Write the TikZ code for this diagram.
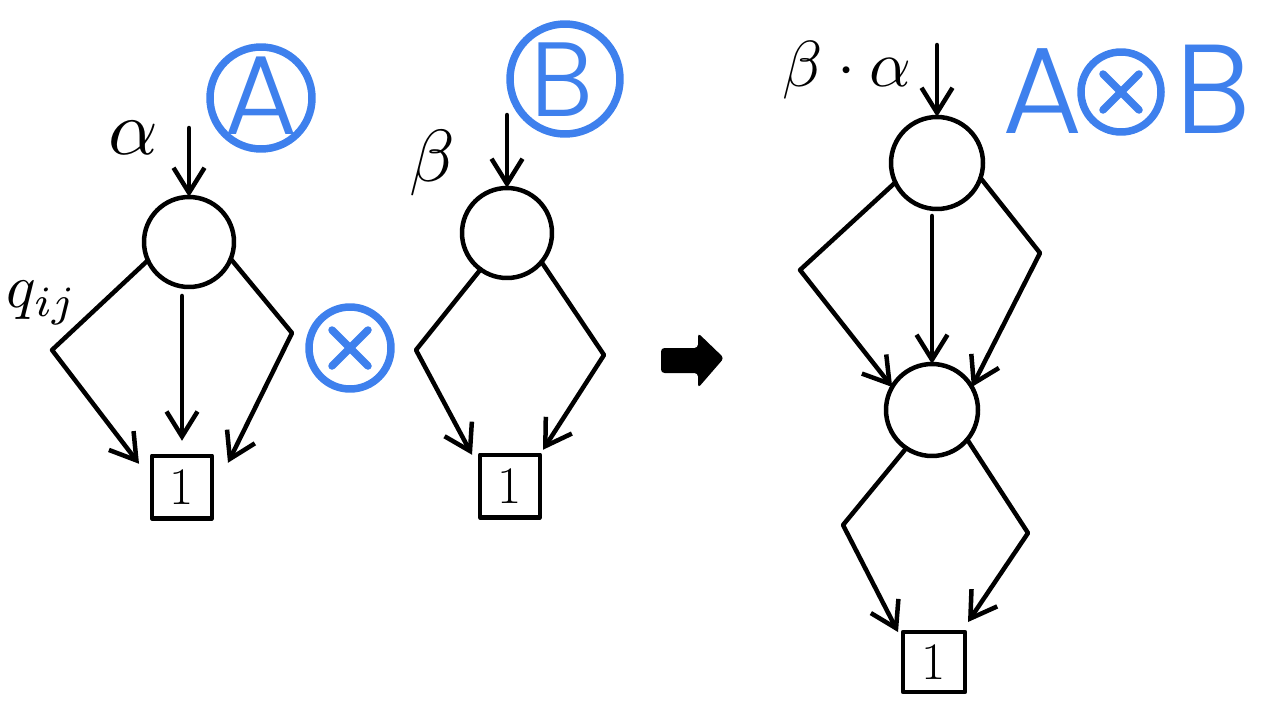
\documentclass[tikz,border=0pt]{standalone}
\usepackage{graphicx}
\usepackage{fontspec}
\newfontfamily\bluefont[UprightFont=* Light]{Poppins}
\usetikzlibrary{arrows.meta,calc}
\definecolor{penblue}{RGB}{62,128,237}
\begin{document}
\begin{tikzpicture}[x=0.02cm,y=-0.02cm,
  every path/.style={line cap=round,line join=round},
  ink/.style={line width=0.09cm,black},
  arr/.style={ink,-{Straight Barb[length=0.5cm,width=0.62cm,line width=0.09cm]}},
  state/.style={circle,draw,line width=0.09cm,minimum size=1.8cm,inner sep=0pt,outer sep=0pt},
  termbox/.style={rectangle,draw,line width=0.09cm,minimum width=1.2cm,minimum height=1.25cm,inner sep=0pt,outer sep=0pt,font=\fontsize{30}{30}\selectfont},
  lbl/.style={inner sep=0pt},
  bluering/.style={circle,draw=penblue,line width=0.15cm,inner sep=0pt,outer sep=0pt},
  bluetxt/.style={inner sep=0pt,text=penblue,font=\bluefont\fontsize{64}{64}\selectfont},
  blueline/.style={draw=penblue,line width=0.15cm}
]
\useasboundingbox (0,0) rectangle (1280,710);

% ---------- graph A ----------
\node[state] (nA) at (189,242) {};
\node[termbox] (boxA) at (182,487) {1};
\coordinate (inA) at (189,128);
\coordinate (bA1) at (52,350);
\coordinate (bA2) at (292,333);
\draw[arr] (inA) -- (nA.north);
\draw[arr] (nA.204) -- (bA1) -- ($(boxA.north west)+(-13,8)$);
\draw[arr] ($(nA.south)+(-7,9)$) -- ($(boxA.north)+(0,-15)$);
\draw[arr] (nA.-22) -- (bA2) -- ($(boxA.north east)+(16,7)$);
\node[lbl] (alphaA) at (133,138) {\scalebox{4.4}{$\alpha$}};
\node[lbl] (qij) at (42,303) {\scalebox{3.5}{$q_{ij}$}};
\node[bluering,minimum size=2.04cm] (ringA) at (261,98) {};
\node[bluetxt] (letA) at (261,96) {A};

% ---------- tensor sign ----------
\node[bluering,minimum size=1.64cm] (otimes) at (350,348) {};
\draw[blueline] ($(otimes.center)+(-18,-18)$) -- ($(otimes.center)+(18,18)$);
\draw[blueline] ($(otimes.center)+(-18,18)$) -- ($(otimes.center)+(18,-18)$);

% ---------- graph B ----------
\node[state] (nB) at (507,233) {};
\node[termbox] (boxB) at (510,486) {1};
\coordinate (inB) at (507,115);
\coordinate (bB1) at (416,350);
\coordinate (bB2) at (604,355);
\draw[arr] (inB) -- (nB.north);
\draw[arr] (nB.234) -- (bB1) -- ($(boxB.north west)+(-8,0)$);
\draw[arr] (nB.320) -- (bB2) -- ($(boxB.north east)+(3,-5)$);
\node[lbl] (betaB) at (432,163) {\scalebox{4.2}{$\beta$}};
\node[bluering,minimum size=2.2cm] (ringB) at (565,79) {};
\node[bluetxt,font=\bluefont\fontsize{60}{60}\selectfont] (letB) at (562,80) {B};

% ---------- big arrow ----------
\fill[rounded corners=2] (661,348) -- (698,348) -- (698,333) -- (724,358) -- (698,388) -- (698,373) -- (661,373) -- cycle;

% ---------- graph A (x) B ----------
\node[state,minimum size=1.84cm] (nT) at (937,163) {};
\node[state,minimum size=1.84cm] (nM) at (932,410) {};
\node[termbox,minimum width=1.24cm,minimum height=1.2cm] (boxC) at (934,662) {1};
\coordinate (inT) at (937,45);
\coordinate (bT1) at (800,270);
\coordinate (bT2) at (1040,253);
\coordinate (bM1) at (843,525);
\coordinate (bM2) at (1028,533);
\draw[arr] (inT) -- (nT.north);
\draw[arr] (nT.205) -- (bT1) -- (nM.150);
\draw[arr] ($(nT.south)+(-5,7)$) -- (nM.north);
\draw[arr] (nT.341) -- (bT2) -- (nM.30);
\draw[arr] (nM.236) -- (bM1) -- ($(boxC.north west)+(-5,0)$);
\draw[arr] (nM.320) -- (bM2) -- ($(boxC.north east)+(3,-10)$);
\node[lbl] (ba) at (847,70) {\scalebox{3.7}{$\beta\cdot\alpha$}};

\node[bluetxt,font=\bluefont\fontsize{70}{70}\selectfont] (ABa) at (1043,91) {A};
\node[bluering,minimum size=1.6cm] (ABo) at (1121,92) {};
\draw[blueline] ($(ABo.center)+(-18,-18)$) -- ($(ABo.center)+(18,18)$);
\draw[blueline] ($(ABo.center)+(-18,18)$) -- ($(ABo.center)+(18,-18)$);
\node[bluetxt,font=\bluefont\fontsize{72}{72}\selectfont] (ABb) at (1213,89) {B};
\end{tikzpicture}
\end{document}
